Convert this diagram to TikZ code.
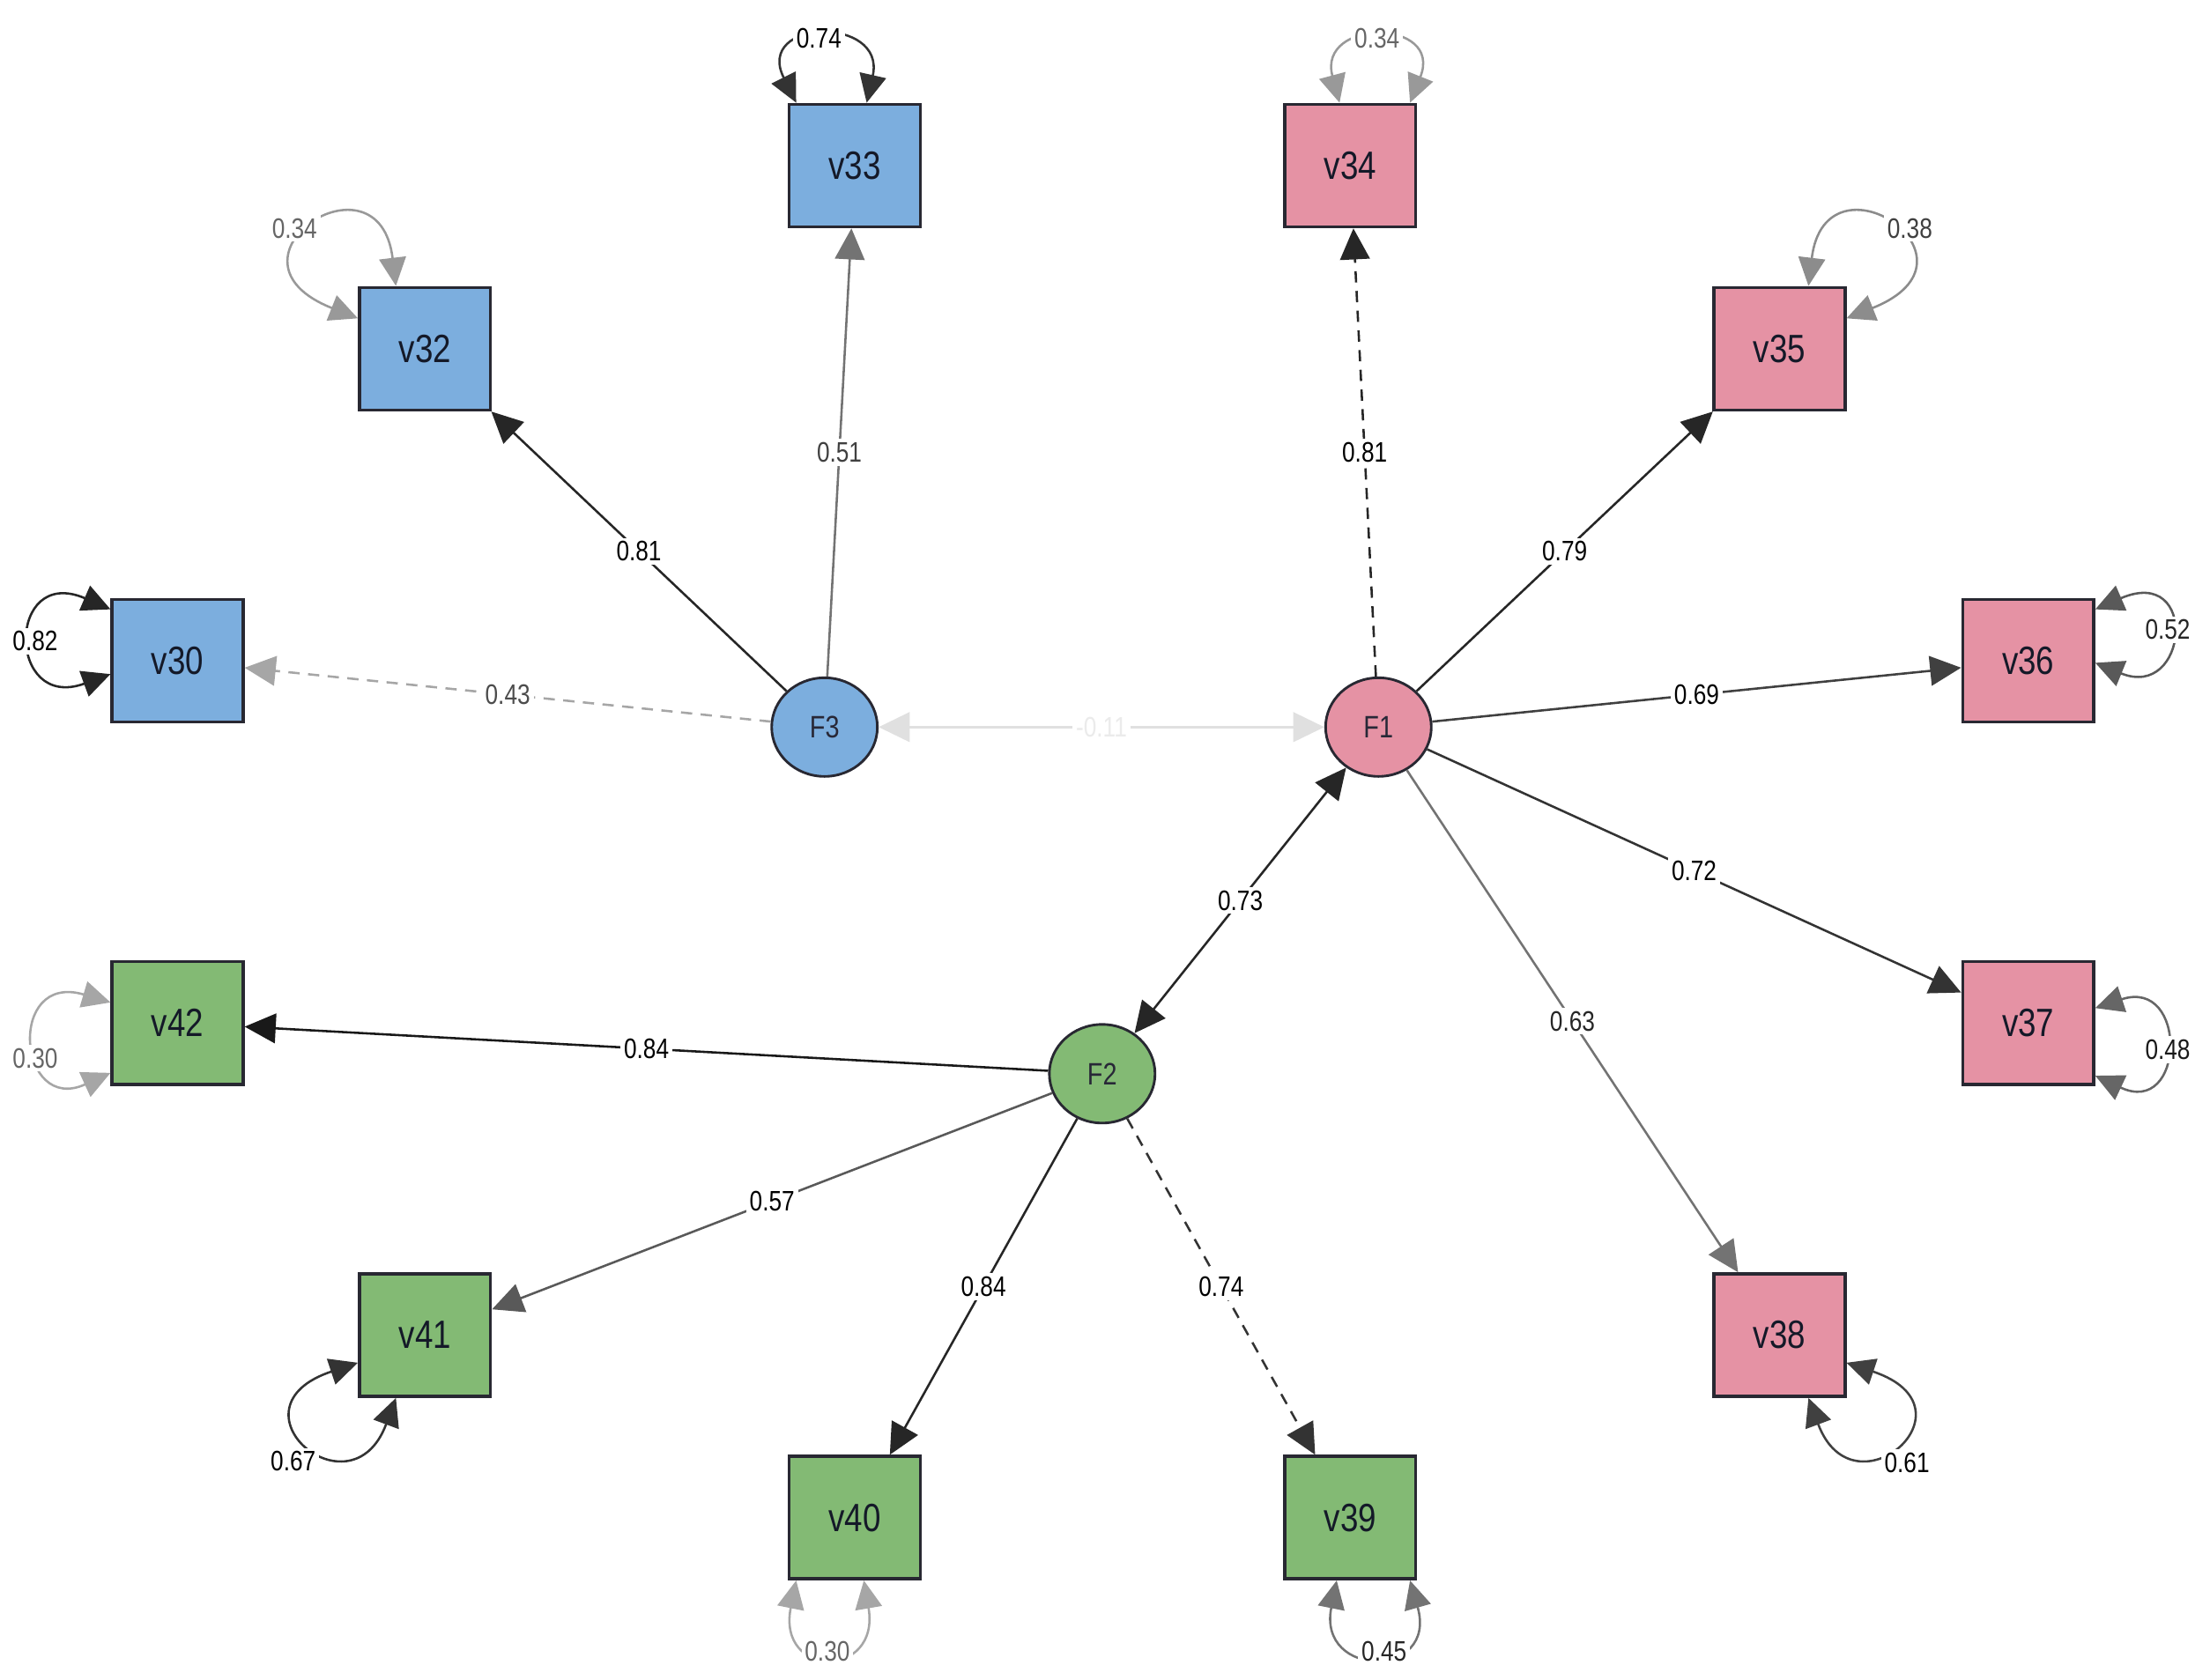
\documentclass[tikz,border=0pt]{standalone}
\usepackage{fontspec}
\newfontfamily\semfont[FakeStretch=0.82]{Liberation Sans}
\usetikzlibrary{arrows.meta,shapes.geometric,calc}

\definecolor{semblue}{RGB}{124,174,222}
\definecolor{sempink}{RGB}{229,146,164}
\definecolor{semgreen}{RGB}{131,186,116}

\tikzset{every picture/.style={line width=0.75pt}}
\tikzset{
  manifest/.style={draw={rgb, 255:red, 40; green, 40; blue, 50}, line width=1.1pt, minimum width=46.5pt, minimum height=43.5pt, inner sep=0pt, font=\semfont\fontsize{14}{16}\selectfont, text={rgb, 255:red, 20; green, 25; blue, 40}},
  latent/.style={ellipse, draw={rgb, 255:red, 40; green, 40; blue, 50}, line width=0.9pt, minimum width=37.5pt, minimum height=35pt, inner sep=0pt, font=\semfont\fontsize{11}{13}\selectfont, text={rgb, 255:red, 40; green, 40; blue, 55}},
  load/.style={-{Triangle[length=11pt,width=10.5pt]}, line width=0.8pt},
  cov/.style={{Triangle[length=11pt,width=10.5pt]}-{Triangle[length=11pt,width=10.5pt]}, line width=0.8pt},
  resid/.style={{Triangle[length=10pt,width=9.5pt]}-{Triangle[length=10pt,width=9.5pt]}, line width=0.8pt},
  lbl/.style={fill=white, inner sep=1.2pt, font=\semfont\fontsize{10}{12}\selectfont, text=black}
}

\begin{document}
\begin{tikzpicture}[x=0.5pt,y=0.5pt,yscale=-1,xscale=1]
\useasboundingbox (0,0) rectangle (1568,1191.7);

%Shape: Ellipse [factors]
\node[latent, fill=semblue] (F3) at (585,516) {F3};
\node[latent, fill=sempink] (F1) at (978,516) {F1};
\node[latent, fill=semgreen] (F2) at (782,762) {F2};

%Shape: Rectangle [blue indicators]
\node[manifest, fill=semblue] (v33) at (606.5,117.5) {v33};
\node[manifest, fill=semblue] (v32) at (301.5,247.5) {v32};
\node[manifest, fill=semblue] (v30) at (126,469) {v30};
%Shape: Rectangle [pink indicators]
\node[manifest, fill=sempink] (v34) at (958,117.5) {v34};
\node[manifest, fill=sempink] (v35) at (1262.5,247.5) {v35};
\node[manifest, fill=sempink] (v36) at (1439,469) {v36};
\node[manifest, fill=sempink] (v37) at (1439,726) {v37};
\node[manifest, fill=sempink] (v38) at (1262.5,947.5) {v38};
%Shape: Rectangle [green indicators]
\node[manifest, fill=semgreen] (v42) at (126,726) {v42};
\node[manifest, fill=semgreen] (v41) at (301.5,947.5) {v41};
\node[manifest, fill=semgreen] (v40) at (606.5,1077) {v40};
\node[manifest, fill=semgreen] (v39) at (958,1077) {v39};

%Straight Lines [F3 loadings]
\draw[load, color=black!55] (F3) -- node[lbl, text=black!75] (l33) {0.51} (v33);
\draw[load, color=black!85] (F3) -- node[lbl] (l32) {0.81} (v32);
\draw[load, color=black!35, dash pattern={on 4pt off 3pt}] (F3) -- node[lbl, text=black!70] (l30) {0.43} (v30);
%Straight Lines [F1 loadings]
\draw[load, color=black!85, dash pattern={on 4pt off 3pt}] (F1) -- node[lbl] (l34) {0.81} (v34);
\draw[load, color=black!85] (F1) -- node[lbl] (l35) {0.79} (v35);
\draw[load, color=black!75] (F1) -- node[lbl] (l36) {0.69} (v36);
\draw[load, color=black!80] (F1) -- node[lbl] (l37) {0.72} (v37);
\draw[load, color=black!55] (F1) -- node[lbl, text=black!85] (l38) {0.63} (v38);
%Straight Lines [F2 loadings]
\draw[load, color=black!90] (F2) -- node[lbl] (l42) {0.84} (v42);
\draw[load, color=black!65] (F2) -- node[lbl] (l41) {0.57} (v41);
\draw[load, color=black!85] (F2) -- node[lbl] (l40) {0.84} (v40);
\draw[load, color=black!80, dash pattern={on 4pt off 3pt}] (F2) -- node[lbl] (l39) {0.74} (v39);

%Straight Lines [factor covariances]
\draw[cov, color=black!12] (F3) -- node[lbl, text=black!8] (c31) {-0.11} (F1);
\draw[cov, color=black!85] (F2) -- node[lbl] (c21) {0.73} (F1);

%Curve Lines [residuals]
\draw[resid, color=black!80] ($(v33.north west)+(6,0)$) .. controls +(-30,-60) and +(14,-62) .. ($(v33.north west)+(56,0)$);
\node[lbl] (r33) at (581,27) {0.74};
\draw[resid, color=black!40] ($(v34.north west)+(40,0)$) .. controls +(-16,-60) and +(24,-60) .. ($(v34.north west)+(90,0)$);
\node[lbl, text=black!60] (r34) at (977,27) {0.34};
\draw[resid, color=black!40] ($(v32.north west)+(27,0)$) .. controls +(-12,-100) and +(-106,-42) .. ($(v32.north west)+(0,23)$);
\node[lbl, text=black!60] (r32) at (209,162) {0.34};
\draw[resid, color=black!45] ($(v35.north east)+(-27,0)$) .. controls +(12,-100) and +(106,-42) .. ($(v35.north east)+(0,23)$);
\node[lbl, text=black!75] (r35) at (1355,162) {0.38};
\draw[resid, color=black!85] ($(v30.north west)+(0,8)$) .. controls +(-74,-32) and +(-74,27) .. ($(v30.north west)+(0,54)$);
\node[lbl] (r30) at (25,455) {0.82};
\draw[resid, color=black!65] ($(v36.north east)+(0,8)$) .. controls +(74,-32) and +(66,27) .. ($(v36.north east)+(0,46)$);
\node[lbl, text=black!85] (r36) at (1538,447) {0.52};
\draw[resid, color=black!35] ($(v42.north west)+(0,30)$) .. controls +(-74,-22) and +(-66,30) .. ($(v42.north west)+(0,80)$);
\node[lbl, text=black!60] (r42) at (25,751) {0.30};
\draw[resid, color=black!60] ($(v37.north east)+(0,34)$) .. controls +(66,-22) and +(64,30) .. ($(v37.north east)+(0,82)$);
\node[lbl, text=black!90] (r37) at (1538,745) {0.48};
\draw[resid, color=black!80] ($(v41.south west)+(0,-25)$) .. controls +(-96,32) and +(-32,86) .. ($(v41.south west)+(27,0)$);
\node[lbl] (r41) at (208,1037) {0.67};
\draw[resid, color=black!75] ($(v38.south east)+(0,-25)$) .. controls +(96,32) and +(32,86) .. ($(v38.south east)+(-27,0)$);
\node[lbl] (r38) at (1353,1038) {0.61};
\draw[resid, color=black!35] ($(v40.south west)+(6,0)$) .. controls +(-14,70) and +(12,70) .. ($(v40.south west)+(54,0)$);
\node[lbl, text=black!60] (r40) at (587,1172) {0.30};
\draw[resid, color=black!55] ($(v39.south west)+(38,0)$) .. controls +(-14,70) and +(20,70) .. ($(v39.south west)+(90,0)$);
\node[lbl, text=black!85] (r39) at (982,1172) {0.45};

\end{tikzpicture}
\end{document}
